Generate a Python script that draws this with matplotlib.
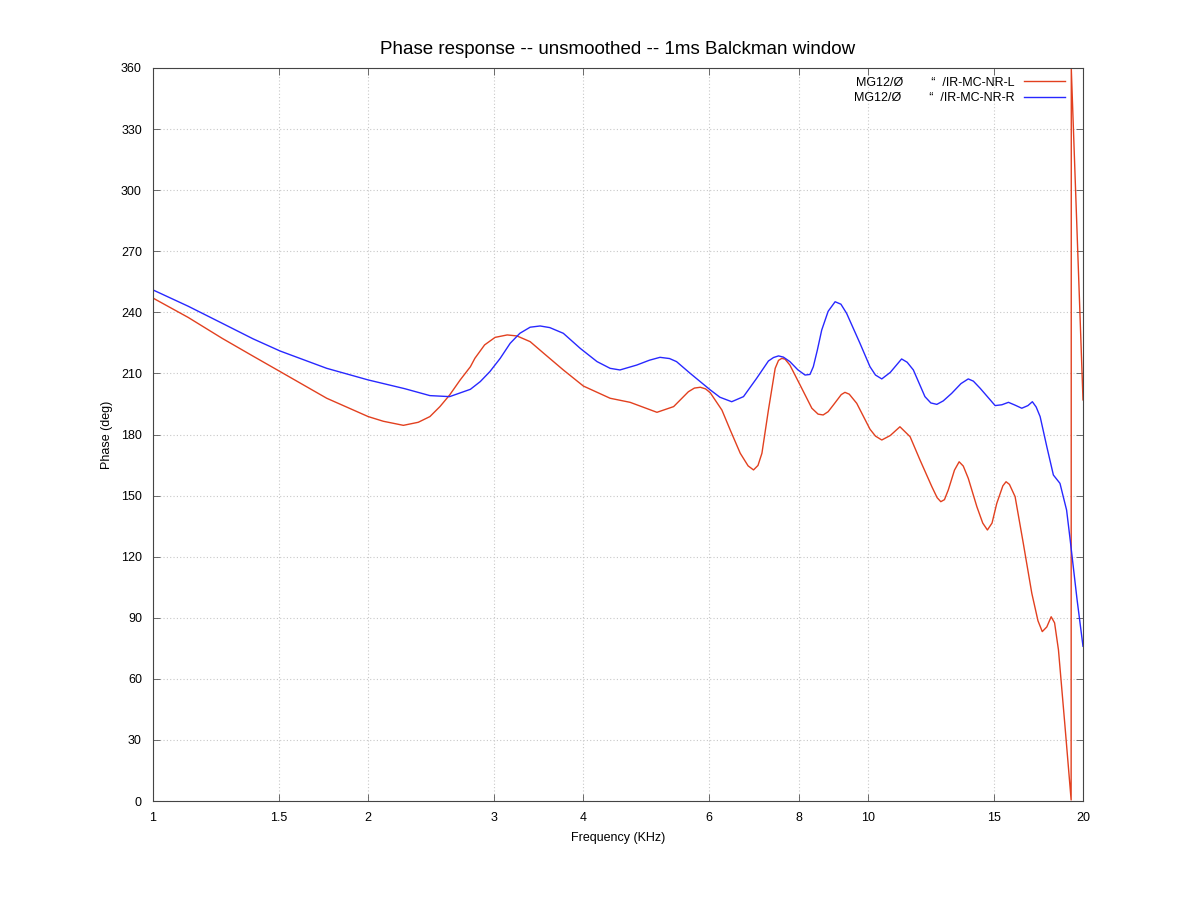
import matplotlib
matplotlib.use("Agg")
import matplotlib.pyplot as plt
from matplotlib.ticker import FixedLocator, FixedFormatter, NullLocator

plt.rcParams['font.family'] = ['Liberation Sans', 'DejaVu Sans']

# Series L: frequency (kHz) and phase (deg)
freq_L = [1.00, 1.12, 1.25, 1.38, 1.506, 1.75, 2.0, 2.1, 2.24, 2.35, 2.44, 2.52, 2.60, 2.69,
          2.78, 2.82, 2.91, 3.01, 3.13, 3.23, 3.37, 3.52, 3.75, 4.00, 4.36, 4.65, 5.07, 5.35,
          5.61, 5.72, 5.83, 5.93, 6.02, 6.25, 6.42, 6.63, 6.80, 6.92, 7.02, 7.11, 7.26, 7.42,
          7.50, 7.58, 7.66, 7.78, 8.04, 8.35, 8.52, 8.66, 8.80, 8.95, 9.18, 9.29, 9.42, 9.65,
          10.07, 10.25, 10.46, 10.75, 11.09, 11.46, 11.83, 12.29, 12.50, 12.65, 12.80, 12.96,
          13.22, 13.42, 13.60, 13.82, 14.21, 14.48, 14.70, 14.92, 15.15, 15.45, 15.61, 15.78,
          16.07, 16.50, 16.96, 17.30, 17.54, 17.80, 18.05, 18.25, 18.48,
          18.87, 19.25, 19.26, 20.0]
phase_L = [247, 237.5, 227.2, 218.5, 210.9, 197.8, 188.8, 186.5, 184.5, 186, 188.8, 193.7, 199.4, 206.8,
           213.3, 217.4, 224, 227.7, 228.9, 228.4, 225.6, 219.9, 211.7, 203.8, 197.8, 195.8, 190.9, 193.7,
           201, 202.8, 203.2, 202.4, 200.5, 192, 182.2, 170.8, 164.6, 162.6, 164.8, 170.8, 192, 212.5,
           216.4, 217.4, 217, 214.1, 204.3, 192.9, 190, 189.6, 191.2, 194.5, 199.6, 200.7, 199.8, 195.3,
           182.6, 179.2, 177.3, 179.5, 183.8, 178.9, 167.5, 154.4, 149, 147, 148, 152.8,
           162.5, 166.6, 164.5, 158.5, 144.5, 136.5, 133.1, 136.5, 146.2, 154.8, 156.8, 155.5,
           149.5, 126.6, 102, 88.5, 83.2, 85.5, 90.5, 87.5, 74.2,
           37, 0.5, 359.5, 197]

# Series R
freq_R = [1.00, 1.12, 1.25, 1.38, 1.506, 1.75, 2.0, 2.25, 2.44, 2.60, 2.78, 2.87, 2.96, 3.06,
          3.16, 3.26, 3.37, 3.48, 3.59, 3.75, 3.96, 4.18, 4.36, 4.50, 4.75, 4.95, 5.12, 5.28,
          5.40, 5.64, 6.02, 6.21, 6.45, 6.70, 6.99, 7.26, 7.38, 7.50, 7.62, 7.78, 7.98, 8.17,
          8.30, 8.39, 8.50, 8.62, 8.80, 9.00, 9.17, 9.34, 9.75, 10.07, 10.25, 10.46, 10.75,
          11.15, 11.35, 11.58, 12.02, 12.25, 12.49, 12.75, 13.10, 13.50, 13.82, 14.05, 14.36,
          15.07, 15.40, 15.73, 16.05, 16.42, 16.75, 16.99, 17.20, 17.42, 17.80, 18.18, 18.57,
          18.97, 19.18, 19.62, 20.0]
phase_R = [251, 243, 234.6, 227, 221, 212.5, 206.8, 202.5, 199.1, 198.6, 202.2, 206, 210.9, 217.4,
           224.8, 229.7, 232.7, 233.3, 232.5, 229.7, 222.3, 215.8, 212.5, 211.7, 214.1, 216.5, 217.9, 217.3,
           215.8, 210.1, 201.9, 198.3, 196.1, 198.6, 207.6, 216.1, 217.8, 218.6, 218, 215.8, 211.8, 209.2,
           209.5, 213.3, 221.5, 231.3, 240.5, 245.2, 244, 239.5, 224.8, 213.3, 209.2, 207.3, 210.5,
           217.1, 215.5, 211.7, 198.6, 195.5, 194.8, 196.5, 200.2, 205, 207.3, 206.2, 202.7,
           194.2, 194.6, 195.8, 194.5, 192.9, 194.2, 196.1, 193.5, 188.8, 174, 160.1, 156,
           142.9, 129, 99, 76]

label_L = "MG12/Ø        \u201c  /IR-MC-NR-L"
label_R = "MG12/Ø        \u201c  /IR-MC-NR-R"

x_ticks = [1, 1.5, 2, 3, 4, 6, 8, 10, 15, 20]
x_tick_labels = ["1", "1.5", "2", "3", "4", "6", "8", "10", "15", "20"]
y_ticks = list(range(0, 361, 30))

title = "Phase response -- unsmoothed -- 1ms Balckman window"

fig = plt.figure(figsize=(11.98, 8.98), dpi=100)
ax = fig.add_axes([153/1198, 97/898, 930/1198, 733/898])

ax.plot(freq_L, phase_L, color='#e2401f', lw=1.0, label=label_L)
ax.plot(freq_R, phase_R, color='#2828ff', lw=1.0, label=label_R)

ax.set_xscale('log')
ax.set_xlim(1, 20)
ax.set_ylim(0, 360)
ax.xaxis.set_major_locator(FixedLocator(x_ticks))
ax.xaxis.set_major_formatter(FixedFormatter(x_tick_labels))
ax.xaxis.set_minor_locator(NullLocator())
ax.set_yticks(y_ticks)

ax.grid(True, color='#c8c8c8', linestyle=(0, (1, 2)), linewidth=0.8)
ax.tick_params(direction='in', top=True, right=True, length=5, width=0.6,
               color='#555555', labelsize=9, pad=8)
for s in ax.spines.values():
    s.set_color('#444444')
    s.set_linewidth(0.8)

ax.set_xlabel("Frequency (KHz)", fontsize=9, labelpad=6)
ax.set_ylabel("Phase (deg)", fontsize=9, labelpad=6)
ax.set_title(title, fontsize=13.5, pad=10)

leg = ax.legend(loc='upper right', frameon=False, markerfirst=False, fontsize=9,
                handlelength=3.28, labelspacing=0.25, borderaxespad=0.3,
                bbox_to_anchor=(0.9904, 1.0))

fig.savefig("out.png", dpi=100)
